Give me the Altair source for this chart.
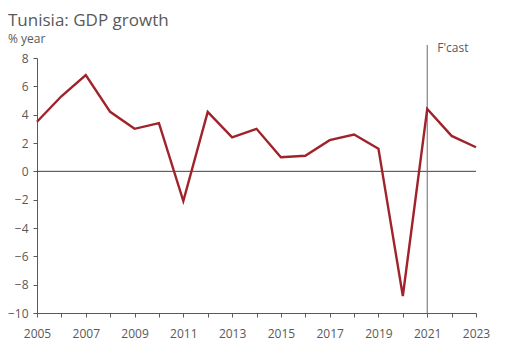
import altair as alt
import pandas as pd

years = list(range(2005, 2024))
growth = [3.5, 5.3, 6.8, 4.2, 3.0, 3.4, -2.1, 4.2, 2.4, 3.0, 1.0, 1.1, 2.2, 2.6, 1.6, -8.8, 4.4, 2.5, 1.7]
y_ticks = list(range(-10, 9, 2))
fcast_year = 2021

df = pd.DataFrame({"year": years, "growth": growth})

GREY = "#595959"
FONT = "Open Sans"

x_scale = alt.Scale(domain=[2005, 2023], nice=False, zero=False)
y_scale = alt.Scale(domain=[-10, 8], nice=False)

x_axis = alt.Axis(values=years, format="d",
                  labelExpr="datum.value % 2 == 1 ? datum.label : ''",
                  grid=False, domainColor=GREY, tickColor=GREY, tickSize=4,
                  labelColor=GREY, labelFont=FONT, labelFontSize=12,
                  labelPadding=11, labelFlush=False, labelOverlap=False, title=None)
y_axis = alt.Axis(values=y_ticks, grid=False, domainColor=GREY, tickColor=GREY,
                  tickSize=4, labelColor=GREY, labelFont=FONT, labelFontSize=12,
                  labelPadding=5, labelOverlap=False, labelFlush=False, title=None)

zero = alt.Chart(pd.DataFrame({"y": [0]})).mark_rule(color="#404040", strokeWidth=1).encode(
    y=alt.Y("y:Q", scale=y_scale, axis=y_axis)
)

vline = alt.Chart(pd.DataFrame({"x": [fcast_year]})).mark_rule(color="#6b6b6b", strokeWidth=1).encode(
    x=alt.X("x:Q", scale=x_scale, axis=x_axis), y=alt.value(-13), y2=alt.value(255)
)

line = alt.Chart(df).mark_line(color="#A0232B", strokeWidth=2.4).encode(
    x=alt.X("year:Q", scale=x_scale, axis=x_axis),
    y=alt.Y("growth:Q", scale=y_scale, axis=y_axis),
)

fcast = alt.Chart(pd.DataFrame({"x": [fcast_year], "t": ["F'cast"]})).mark_text(
    align="left", baseline="alphabetic", dx=10, font=FONT, fontSize=12, color=GREY
).encode(x=alt.X("x:Q", scale=x_scale, axis=x_axis), y=alt.value(-6), text="t:N")

unit = alt.Chart(pd.DataFrame({"t": ["% year"]})).mark_text(
    align="left", baseline="alphabetic", font=FONT, fontSize=12, color=GREY
).encode(x=alt.value(-29), y=alt.value(-15), text="t:N")

title = alt.Chart(pd.DataFrame({"t": ["Tunisia: GDP growth"]})).mark_text(
    align="left", baseline="alphabetic", font=FONT, fontSize=17, color=GREY
).encode(x=alt.value(-29), y=alt.value(-32), text="t:N")

chart = alt.layer(zero, vline, line, fcast, unit, title).properties(
    width=439, height=255,
    autosize=alt.AutoSizeParams(type="none"),
    padding={"left": 29, "top": 50, "right": 20, "bottom": 30},
).configure_view(stroke=None)

chart.save("out.html", embed_options={"renderer": "svg", "actions": False})
